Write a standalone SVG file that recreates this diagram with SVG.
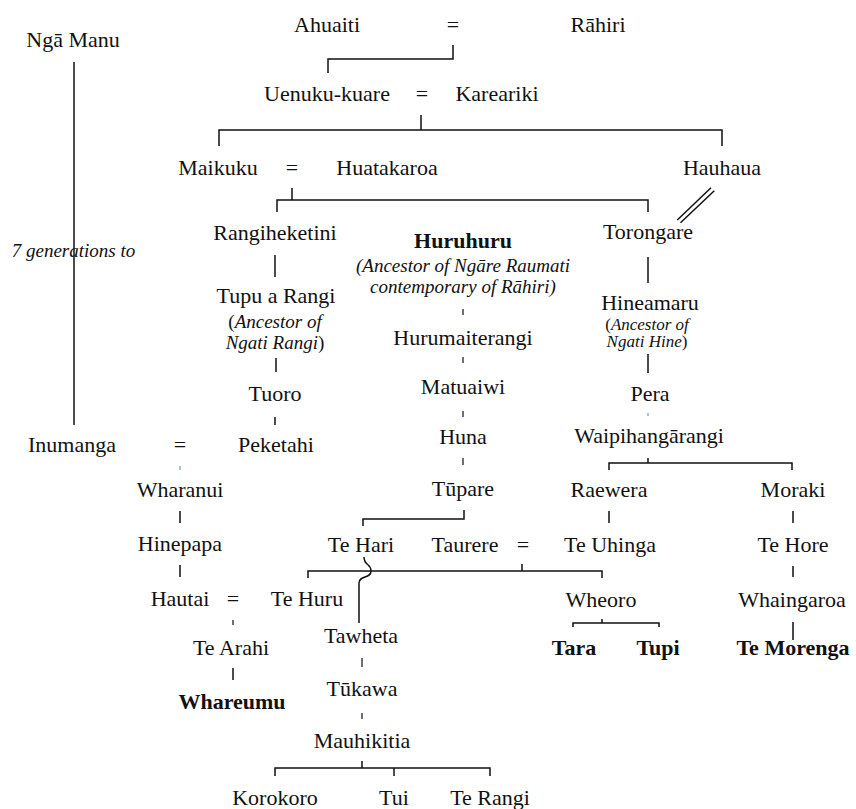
<svg xmlns="http://www.w3.org/2000/svg" width="856" height="809" viewBox="0 0 856 809">
<style>
  text { font-family: "Liberation Serif", "Times New Roman", serif; font-size: 22px; fill: #111; text-anchor: middle; }
  .b { font-weight: bold; }
  .i { font-style: italic; font-size: 19px; }
  .s { font-style: italic; font-size: 17px; }
  .up { font-style: normal; }
  .ln { stroke: #111; stroke-width: 1.5; fill: none; }
  .tk { stroke: #111; stroke-width: 1.2; fill: none; }
  .dot { stroke: #4a7fd0; stroke-width: 1; fill: none; }
</style>
<rect width="856" height="809" fill="#fff"/>

<g id="connectors">
  <!-- marriages and descent brackets -->
  <path class="ln" d="M453,45 V59 H328 V73"/>
  <path class="ln" d="M74,62 V425"/>
  <path class="ln" d="M421,115 V130 M219,146 V130 H722 V146"/>
  <path class="ln" d="M292,188 V200 M277,212 V200 H648 V212"/>
  <path class="ln" d="M711,187.7 L677.3,220 M714.3,190.7 L680.5,222.7"/>
  <path class="ln" d="M275,255 V277"/>
  <path class="ln" d="M276,358 V372"/>
  <path class="ln" d="M275,417 V425"/>
  <path class="tk" d="M463,309 V315 M463,357 V363 M463,411 V417 M463,458 V465"/>
  <path class="ln" d="M648,257 V283"/>
  <path class="ln" d="M648,354 V373"/>
  <path class="ln" d="M648,458 V463 M609,470 V463 H792 V470"/>
  <path class="ln" d="M609,511 V523 M793,511 V523"/>
  <path class="ln" d="M793,566 V577 M793,622 V640"/>
  <path class="ln" d="M464,510 V519 H363 V526"/>
  <path class="ln" d="M522,564 V571 M308,578 V571 H602 V578"/>
  <!-- Te Hari's line hops over the Taurere bracket -->
  <path class="ln" d="M364,557 C364,566 371,563 371,571 C371,579 359,575 359,583 V623"/>
  <path class="ln" d="M602,619 V623 M573,627 V623 H659 V627"/>
  <path class="ln" d="M180,511 V523 M180,565 V577"/>
  <path class="tk" d="M233,620 V625"/>
  <path class="ln" d="M233,668 V680"/>
  <path class="tk" d="M362,658 V667 M362,713 V719"/>
  <path class="ln" d="M362,761 V768 M275,776 V768 H490 V776 M394,768 V776"/>
  <path class="dot" d="M180,466 V470 M648,413 V416"/>
</g>

<g id="nga-manu"><text x="73" y="47">Ngā Manu</text></g>
<g id="seven-generations"><text class="i" x="73.5" y="257">7 generations to</text></g>
<g id="ahuaiti"><text x="327" y="32">Ahuaiti</text></g>
<g id="eq-1"><text x="453" y="32">=</text></g>
<g id="rahiri"><text x="598" y="32">Rāhiri</text></g>

<g id="uenuku-kuare"><text x="327" y="101">Uenuku-kuare</text></g>
<g id="eq-2"><text x="422" y="101">=</text></g>
<g id="kareariki"><text x="497" y="101">Kareariki</text></g>

<g id="maikuku"><text x="218" y="175">Maikuku</text></g>
<g id="eq-3"><text x="292" y="175">=</text></g>
<g id="huatakaroa"><text x="387" y="175">Huatakaroa</text></g>
<g id="hauhaua"><text x="722" y="175">Hauhaua</text></g>

<g id="rangiheketini"><text x="275" y="240">Rangiheketini</text></g>
<g id="huruhuru">
  <text class="b" x="463" y="248">Huruhuru</text>
  <text class="i" x="463" y="272">(Ancestor of Ngāre Raumati</text>
  <text class="i" x="463" y="293">contemporary of Rāhiri)</text>
</g>
<g id="torongare"><text x="648" y="239">Torongare</text></g>

<g id="tupu-a-rangi">
  <text x="276" y="303">Tupu a Rangi</text>
  <text class="i" x="275" y="328"><tspan class="up">(</tspan>Ancestor of</text>
  <text class="i" x="275" y="349">Ngati Rangi<tspan class="up">)</tspan></text>
</g>
<g id="hineamaru">
  <text x="650" y="310">Hineamaru</text>
  <text class="s" x="647" y="330"><tspan class="up">(</tspan>Ancestor of</text>
  <text class="s" x="647" y="347">Ngati Hine<tspan class="up">)</tspan></text>
</g>
<g id="hurumaiterangi"><text x="463" y="345">Hurumaiterangi</text></g>
<g id="matuaiwi"><text x="463" y="394">Matuaiwi</text></g>
<g id="tuoro"><text x="275" y="401">Tuoro</text></g>
<g id="pera"><text x="650" y="401">Pera</text></g>

<g id="inumanga"><text x="72" y="452">Inumanga</text></g>
<g id="eq-4"><text x="180" y="452">=</text></g>
<g id="peketahi"><text x="276" y="452">Peketahi</text></g>
<g id="huna"><text x="463" y="444">Huna</text></g>
<g id="waipihangarangi"><text x="649" y="443">Waipihangārangi</text></g>

<g id="wharanui"><text x="180" y="497">Wharanui</text></g>
<g id="tupare"><text x="463" y="496">Tūpare</text></g>
<g id="raewera"><text x="609" y="497">Raewera</text></g>
<g id="moraki"><text x="793" y="497">Moraki</text></g>

<g id="hinepapa"><text x="180" y="551">Hinepapa</text></g>
<g id="te-hari"><text x="361" y="552">Te Hari</text></g>
<g id="taurere"><text x="465" y="552">Taurere</text></g>
<g id="eq-5"><text x="523" y="552">=</text></g>
<g id="te-uhinga"><text x="610" y="552">Te Uhinga</text></g>
<g id="te-hore"><text x="793" y="552">Te Hore</text></g>

<g id="hautai"><text x="180" y="606">Hautai</text></g>
<g id="eq-6"><text x="233" y="606">=</text></g>
<g id="te-huru"><text x="307" y="606">Te Huru</text></g>
<g id="wheoro"><text x="601" y="607">Wheoro</text></g>
<g id="whaingaroa"><text x="792" y="607">Whaingaroa</text></g>

<g id="tawheta"><text x="361" y="643">Tawheta</text></g>
<g id="te-arahi"><text x="231" y="655">Te Arahi</text></g>
<g id="tara"><text class="b" x="574" y="655">Tara</text></g>
<g id="tupi"><text class="b" x="658" y="655">Tupi</text></g>
<g id="te-morenga"><text class="b" x="793" y="655">Te Morenga</text></g>

<g id="tukawa"><text x="362" y="696">Tūkawa</text></g>
<g id="whareumu"><text class="b" x="232" y="709">Whareumu</text></g>
<g id="mauhikitia"><text x="362" y="748">Mauhikitia</text></g>

<g id="korokoro"><text x="275" y="805">Korokoro</text></g>
<g id="tui"><text x="394" y="805">Tui</text></g>
<g id="te-rangi"><text x="490" y="805">Te Rangi</text></g>
</svg>
